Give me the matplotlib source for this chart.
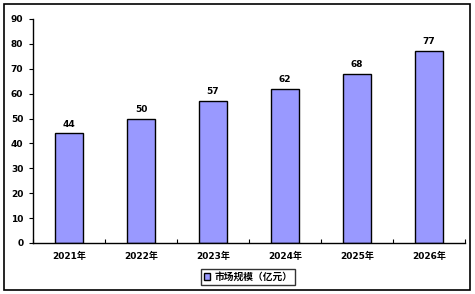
import matplotlib
matplotlib.use("Agg")
import matplotlib.pyplot as plt
from matplotlib.patches import Rectangle
import numpy as np

plt.rcParams['font.family'] = ['DejaVu Sans', 'Noto Sans CJK SC']

categories = ["2021年", "2022年", "2023年", "2024年", "2025年", "2026年"]
values = [44, 50, 57, 62, 68, 77]
series_name = "市场规模（亿元）"
yticks = [0, 10, 20, 30, 40, 50, 60, 70, 80, 90]

fig = plt.figure(figsize=(4.75, 2.94), dpi=100)
fig.patches.append(Rectangle((4/475, 4/294), 466/475, 286/294, transform=fig.transFigure,
                             fill=False, edgecolor='black', linewidth=1.2))
ax = fig.add_axes([33/475, 1-243/294, 432/475, 224/294])

x = np.arange(len(categories))
bars = ax.bar(x, values, width=0.39, color='#9999FF', edgecolor='black', linewidth=1.0,
              label=series_name)
for xi, v in zip(x, values):
    ax.text(xi, v + 2, str(v), ha='center', va='bottom', fontsize=6.5, fontweight='bold')

ax.set_xlim(-0.5, len(categories) - 0.5)
ax.set_ylim(0, 90)
ax.set_yticks(yticks)
ax.set_yticklabels([str(t) for t in yticks], fontsize=6.5, fontweight='bold')
ax.set_xticks(x)
ax.set_xticklabels(categories, fontsize=6.5, fontweight='bold')
ax.tick_params(axis='x', length=0, pad=6)
ax.set_xticks(np.arange(len(categories) + 1) - 0.5, minor=True)
ax.tick_params(axis='x', which='minor', direction='in', length=3, width=0.8)
ax.tick_params(axis='y', direction='out', length=3, width=0.8, pad=4)
for s in ['top', 'right']:
    ax.spines[s].set_visible(False)
ax.spines['left'].set_linewidth(1.0)
ax.spines['bottom'].set_linewidth(1.0)

leg = fig.legend(handles=[bars], labels=[series_name], loc='center',
                 bbox_to_anchor=(248/475, 1-277/294), frameon=True,
                 fancybox=False, edgecolor='black', handlelength=0.7, handleheight=0.7,
                 handletextpad=0.4, borderpad=0.3, prop={'weight': 'bold', 'size': 7,
                                                         'family': ['DejaVu Sans', 'Noto Sans CJK SC']})
leg.get_frame().set_linewidth(1.0)

fig.savefig("out.png", dpi=100)
